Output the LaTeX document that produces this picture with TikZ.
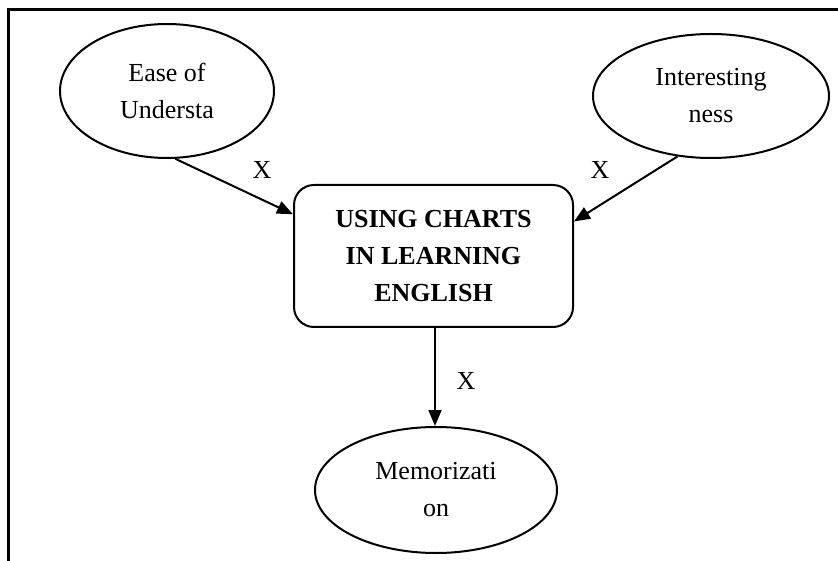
\documentclass[tikz,border=0pt]{standalone}
\usepackage{fontspec}
\setmainfont{Liberation Serif}
\usetikzlibrary{shapes.geometric,arrows.meta,calc}
\tikzset{
  factor/.style={ellipse,draw,line width=2pt,inner sep=0pt,align=center,
    font=\fontsize{26}{37}\selectfont},
  mainbox/.style={draw,line width=2pt,rounded corners=20pt,inner sep=0pt,
    align=center,font=\fontsize{26}{37}\selectfont\bfseries},
  link/.style={line width=2pt,-{Triangle[length=16pt,width=13pt]}},
  xlabel/.style={font=\fontsize{26}{30}\selectfont,inner sep=0pt}
}
\begin{document}
\begin{tikzpicture}[x=1pt,y=-1pt]
\useasboundingbox (0,0) rectangle (838,561);
\draw[line width=3pt] (8,561) -- (8,10) -- (838,10);
\node[factor,minimum width=214pt,minimum height=134pt] (ease) at (167,91)
  {Ease of\\Understa};
\node[factor,minimum width=236pt,minimum height=124pt] (inter) at (711,96)
  {Interesting\\ness};
\node[mainbox,minimum width=279pt,minimum height=142pt] (box) at (433.5,256)
  {USING CHARTS\\IN LEARNING\\ENGLISH};
\node[factor,minimum width=242pt,minimum height=126pt] (mem) at (436,490)
  {Memorizati\\on};
\coordinate (boxL) at ($(box.north west)!0.21!(box.south west)$);
\coordinate (boxR) at ($(box.north east)!0.26!(box.south east)$);
\draw[link] (ease.-83) -- (boxL);
\draw[link] (inter.-119) -- (boxR);
\draw[link] ([xshift=1.5pt]box.south) -- ([xshift=1.5pt]box.south |- mem.north);
\node[xlabel] (x1) at (262,170) {X};
\node[xlabel] (x2) at (600,170) {X};
\node[xlabel] (x3) at (466,381) {X};
\end{tikzpicture}
\end{document}
